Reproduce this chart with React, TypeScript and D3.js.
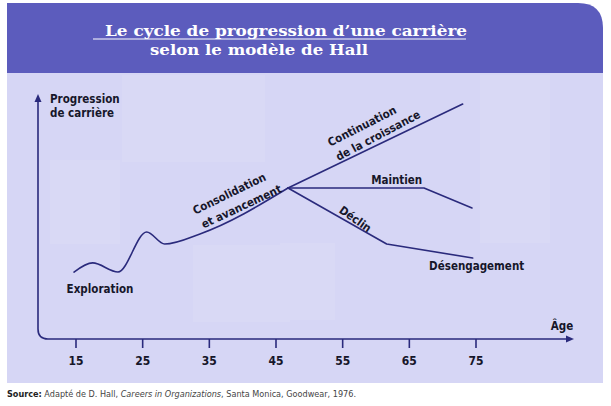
import React from "react";
import * as d3 from "d3";

// ---- data (age, progression 0-100) ----
const ageTicks = [15, 25, 35, 45, 55, 65, 75];
const explorationAges = [14.7, 17.5, 21.3, 25.6, 28.3, 33.6, 46.8];
const explorationVals = [27.9, 31.7, 27.9, 44.6, 39.6, 43.8, 62.9];
const croissanceAges = [46.8, 73.0];
const croissanceVals = [62.9, 97.9];
const maintienAges = [46.8, 67.2, 74.4];
const maintienVals = [62.9, 62.9, 54.6];
const declinAges = [46.8, 61.6, 74.5];
const declinVals = [62.9, 39.6, 33.75];

const labelTexts = ["Exploration", "Consolidation", "et avancement", "Continuation", "de la croissance", "Maintien", "Déclin", "Désengagement"];
const titleLines = ["Le cycle de progression d’une carrière", "selon le modèle de Hall"];
const yAxisLabel = ["Progression", "de carrière"];
const xAxisLabel = "Âge";

const W = 611;
const H = 406;
const NAVY = "#2a2a7c";
const INK = "#16162a";
const COND = "'Liberation Sans Narrow', 'DejaVu Sans Condensed', 'DejaVu Sans', sans-serif";

export default function App() {
  const x = d3.scaleLinear().domain([15, 75]).range([76, 476]);
  const y = d3.scaleLinear().domain([0, 100]).range([339, 99]);

  const zip = (a: number[], b: number[]) => a.map((v, i) => [v, b[i]] as [number, number]);
  const curveLine = d3
    .line<[number, number]>()
    .x((d) => x(d[0]))
    .y((d) => y(d[1]))
    .curve(d3.curveMonotoneX);
  const straight = d3
    .line<[number, number]>()
    .x((d) => x(d[0]))
    .y((d) => y(d[1]));

  const axisX = 38;
  const axisY = y(0);
  const r = 10;
  const axisPath = `M${axisX},${100} L${axisX},${axisY - r} Q${axisX},${axisY} ${axisX + r},${axisY} L${568},${axisY}`;

  const label = (t: string, ax: number, av: number, rot: number, size = 11.5) => (
    <text
      key={t}
      transform={`translate(${x(ax)},${y(av)}) rotate(${rot})`}
      textAnchor="middle"
      dominantBaseline="central"
      fontFamily={COND}
      fontWeight="bold"
      fontSize={size}
      fill={INK}
    >
      {t}
    </text>
  );

  return (
    <svg width={W} height={H} style={{ position: "absolute", left: 0, top: 0 }}>
      <rect x={0} y={0} width={W} height={H} fill="#ffffff" />
      {/* panel */}
      <rect x={7} y={60} width={596} height={323} fill="#d6d6f5" />
      <g fill="#ffffff" opacity={0.09}>
        <rect x={122} y={75} width={143} height={87} />
        <rect x={50} y={160} width={70} height={84} />
        <rect x={193} y={245} width={97} height={77} />
        <rect x={480} y={75} width={70} height={168} />
        <rect x={280} y={243} width={55} height={77} />
      </g>
      {/* banner */}
      <path d={`M7,3 L578,3 Q603,3 603,28 L603,73 L7,73 Z`} fill="#5c5cbd" />
      <text x={105} y={36} fill="#ffffff" fontFamily="'DejaVu Serif', serif" fontWeight="bold" fontSize={15} textLength={362} lengthAdjust="spacingAndGlyphs">
        {titleLines[0]}
      </text>
      <line x1={93} x2={466} y1={39} y2={39} stroke="#ffffff" strokeWidth={1} />
      <text x={150} y={55} fill="#ffffff" fontFamily="'DejaVu Serif', serif" fontWeight="bold" fontSize={15} textLength={218} lengthAdjust="spacingAndGlyphs">
        {titleLines[1]}
      </text>

      {/* axes */}
      <path d={axisPath} fill="none" stroke={NAVY} strokeWidth={1.6} />
      <path d={`M${axisX},94 L${axisX - 3.5},102 L${axisX + 3.5},102 Z`} fill={NAVY} />
      <path d={`M574,${axisY} L566,${axisY - 3.5} L566,${axisY + 3.5} Z`} fill={NAVY} />
      {ageTicks.map((t) => (
        <g key={t}>
          <line x1={x(t)} x2={x(t)} y1={axisY} y2={axisY + 9} stroke={NAVY} strokeWidth={1.6} />
          <text x={x(t)} y={axisY + 22} textAnchor="middle" dominantBaseline="central" fontFamily={COND} fontWeight="bold" fontSize={12} fill={INK}>
            {t}
          </text>
        </g>
      ))}
      <text x={50} y={103} fontFamily={COND} fontWeight="bold" fontSize={11.5} fill={INK}>
        {yAxisLabel[0]}
      </text>
      <text x={50} y={117} fontFamily={COND} fontWeight="bold" fontSize={11.5} fill={INK}>
        {yAxisLabel[1]}
      </text>
      <text x={562} y={326} textAnchor="middle" dominantBaseline="central" fontFamily={COND} fontWeight="bold" fontSize={11.5} fill={INK}>
        {xAxisLabel}
      </text>

      {/* curves */}
      <g fill="none" stroke={NAVY} strokeWidth={1.6} strokeLinejoin="round" strokeLinecap="round">
        <path d={curveLine(zip(explorationAges, explorationVals)) || ""} />
        <path d={straight(zip(croissanceAges, croissanceVals)) || ""} />
        <path d={straight(zip(maintienAges, maintienVals)) || ""} />
        <path d={straight(zip(declinAges, declinVals)) || ""} />
      </g>

      {/* labels */}
      {label(labelTexts[0], 18.6, 21.0, 0)}
      {label(labelTexts[1], 38.0, 60.6, -26)}
      {label(labelTexts[2], 39.8, 55.2, -25)}
      {label(labelTexts[3], 57.9, 88.7, -27)}
      {label(labelTexts[4], 60.3, 84.8, -28)}
      {label(labelTexts[5], 63.1, 66.3, 0)}
      {label(labelTexts[6], 56.9, 50.0, 35)}
      {label(labelTexts[7], 75.1, 30.4, 0)}

      {/* source */}
      <text x={7} y={397} fontFamily="'DejaVu Sans', sans-serif" fontSize={8} fill="#444444" textLength={349} lengthAdjust="spacingAndGlyphs">
        <tspan fontWeight="bold" fill="#222">Source:</tspan>
        <tspan> Adapté de D. Hall, </tspan>
        <tspan fontStyle="italic">Careers in Organizations</tspan>
        <tspan>, Santa Monica, Goodwear, 1976.</tspan>
      </text>
    </svg>
  );
}
